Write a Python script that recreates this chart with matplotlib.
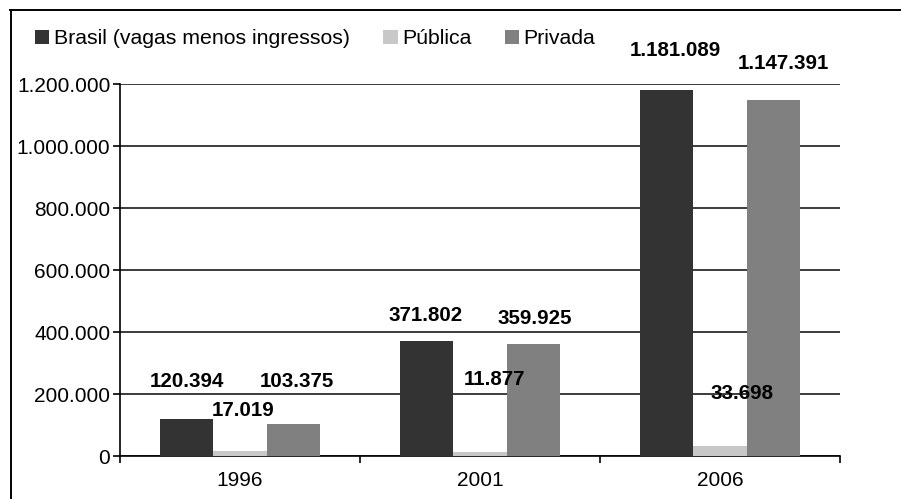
import matplotlib
matplotlib.use("Agg")
import matplotlib.pyplot as plt
from matplotlib.ticker import FuncFormatter, FixedLocator
from matplotlib.lines import Line2D
import numpy as np

# Data
years = ["1996", "2001", "2006"]
series_names = ["Brasil (vagas menos ingressos)", "Pública", "Privada"]
brasil = [120394, 371802, 1181089]
publica = [17019, 11877, 33698]
privada = [103375, 359925, 1147391]
y_ticks = [0, 200000, 400000, 600000, 800000, 1000000, 1200000]

# Styling
colors = ["#333333", "#c8c8c8", "#808080"]
bar_width = 0.222
# label offsets in pixels (dx, dy) from the top-centre of each bar
label_offsets = [
    [(0, 37), (-1, 25.5), (8.5, 39)],
    [(3.5, 40.7), (14.5, 72.8), (22, 51.6)],
    [(4, 42), (1, 26), (10.5, 37)],
]

plt.rcParams["font.family"] = ["Liberation Sans", "DejaVu Sans"]

W, H, DPI = 901, 499, 100
fig = plt.figure(figsize=(W / DPI, H / DPI), dpi=DPI)
ax = fig.add_axes([120 / W, 1 - 456 / H, 720 / W, 372 / H])


def fmt(v, _pos=None):
    return f"{v:,.0f}".replace(",", ".")


x = np.arange(len(years))
all_series = [brasil, publica, privada]
containers = []
for i, (vals, col, name) in enumerate(zip(all_series, colors, series_names)):
    c = ax.bar(x + (i - 1) * bar_width, vals, width=bar_width, color=col,
               label=name, zorder=3, linewidth=0)
    containers.append(c)
    for j, (rect, v) in enumerate(zip(c, vals)):
        dx, dy = label_offsets[i][j]
        ax.annotate(fmt(v), (rect.get_x() + rect.get_width() / 2, v),
                    xytext=(dx * 0.72, dy * 0.72), textcoords="offset points",
                    ha="center", va="center", fontsize=14.8,
                    fontweight="bold", color="black", zorder=5)

ax.set_xlim(-0.5, len(years) - 0.5)
ax.set_ylim(0, 1200000)
ax.yaxis.set_major_locator(FixedLocator(y_ticks))
ax.yaxis.set_major_formatter(FuncFormatter(fmt))
ax.grid(axis="y", color="#1a1a1a", linewidth=1.2, zorder=1)
ax.set_axisbelow(True)

# category labels centred, tick marks on category boundaries
ax.set_xticks(x)
ax.set_xticklabels(years)
ax.tick_params(axis="x", which="major", length=0, pad=11, labelsize=15)
ax.set_xticks(np.arange(-0.5, len(years)), minor=True)
ax.tick_params(axis="x", which="minor", length=5, width=1.2, direction="out",
               color="black")
ax.tick_params(axis="y", length=5, width=1.2, direction="out", pad=2,
               labelsize=15, color="black")

for s in ["top", "right"]:
    ax.spines[s].set_visible(False)
for s in ["left", "bottom"]:
    ax.spines[s].set_color("black")
    ax.spines[s].set_linewidth(1.2)

ax.legend(handles=containers, loc="center left",
          bbox_to_anchor=(35 / W, 1 - 39 / H), bbox_transform=fig.transFigure,
          ncol=3, frameon=False, fontsize=15.3, handlelength=0.68,
          handleheight=0.68, handletextpad=0.22, columnspacing=1.55,
          borderaxespad=0, borderpad=0)

# outer frame lines (top and left)
fig.add_artist(Line2D([10 / W, 1.0], [1 - 10 / H, 1 - 10 / H],
                      transform=fig.transFigure, color="black", linewidth=1.4))
fig.add_artist(Line2D([10.5 / W, 10.5 / W], [0, 1 - 10 / H],
                      transform=fig.transFigure, color="black", linewidth=1.4))

fig.savefig("out.png", dpi=DPI)
